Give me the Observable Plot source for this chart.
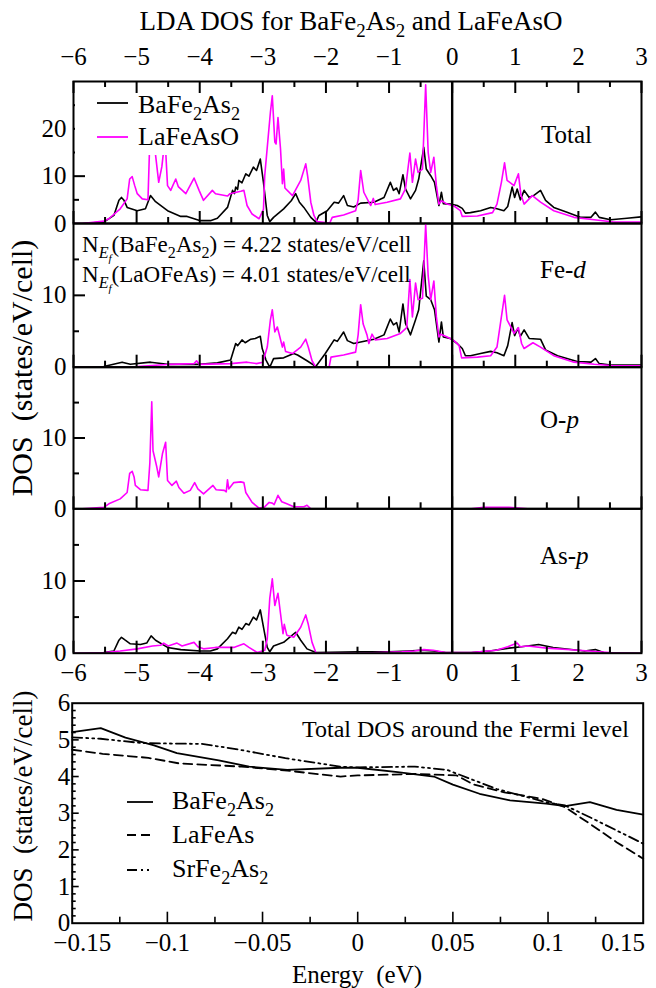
<!DOCTYPE html>
<html><head><meta charset="utf-8">
<script src="https://cdn.jsdelivr.net/npm/d3@7"></script>
<script src="https://cdn.jsdelivr.net/npm/@observablehq/plot@0.6"></script>
<style>
body{margin:0;background:#fff;}
#wrap{position:relative;width:656px;height:988px;overflow:hidden;background:#fff;font-family:"Liberation Serif","Times New Roman",Times,serif;color:#000;}
.t{position:absolute;line-height:0;white-space:nowrap;}
.t sub{font-size:70%;vertical-align:-0.38em;line-height:0;}
.rot{position:absolute;line-height:1;white-space:nowrap;transform:translate(-50%,-50%) rotate(-90deg);}
.box{position:absolute;background:#fff;}
</style></head><body><div id="wrap"></div>
<script>
// ---------------- data ----------------
const energyMajor = [-6,-5,-4,-3,-2,-1,0,1,2,3];
const energyMinor = [-5.5,-4.5,-3.5,-2.5,-1.5,-0.5,0.5,1.5,2.5];

// Total DOS  [energy eV, states/eV/cell]
const totalBa = [[-6,0],[-5.86,0],[-5.52,0.3],[-5.36,1.7],[-5.28,4.9],[-5.24,5.5],[-5.2,4.9],[-5.15,3.4],[-4.99,2.7],[-4.86,3.1],[-4.78,5.9],[-4.7,4.6],[-4.51,2.7],[-4.3,1.5],[-4.2,1.5],[-3.99,0.6],[-3.83,0.6],[-3.72,1.1],[-3.56,3.4],[-3.48,7.0],[-3.45,6.3],[-3.43,7.7],[-3.4,7.2],[-3.38,9.1],[-3.33,8.6],[-3.27,10.5],[-3.22,10.0],[-3.15,11.9],[-3.1,11.2],[-3.04,13.6],[-2.99,8.7],[-2.93,1.7],[-2.89,0.4],[-2.83,1.3],[-2.67,3.1],[-2.55,4.8],[-2.48,6.3],[-2.42,4.5],[-2.35,3.4],[-2.24,1.3],[-2.16,0.3],[-2.11,1.7],[-1.98,2.7],[-1.87,4.5],[-1.8,4.3],[-1.72,5.9],[-1.66,3.8],[-1.56,3.5],[-1.45,4.3],[-1.24,4.5],[-1.08,5.5],[-0.98,8.7],[-0.93,7.0],[-0.88,7.5],[-0.84,6.3],[-0.78,10.3],[-0.74,7.3],[-0.66,5.2],[-0.58,7.0],[-0.53,9.4],[-0.45,16.1],[-0.41,11.5],[-0.34,10.1],[-0.28,8.7],[-0.21,3.8],[-0.17,6.6],[-0.14,4.2],[-0.03,4.1],[0.08,3.8],[0.16,3.2],[0.21,2.2],[0.29,2.3],[0.45,2.7],[0.61,3.4],[0.71,3.1],[0.82,2.7],[0.88,3.6],[0.95,7.7],[0.99,5.5],[1.03,7.3],[1.08,5.0],[1.14,7.0],[1.22,5.5],[1.3,6.0],[1.4,7.0],[1.48,4.9],[1.61,3.4],[1.82,2.4],[2.03,1.3],[2.2,1.3],[2.27,2.4],[2.33,1.3],[2.51,0.8],[2.77,1.1],[3,1.4]];
const totalLa = [[-6,0],[-5.86,0],[-5.52,0.5],[-5.44,1.0],[-5.26,3.1],[-5.15,5.2],[-5.11,9.4],[-5.07,9.9],[-5.03,8.0],[-4.99,6.3],[-4.91,5.2],[-4.82,5.0],[-4.79,18],[-4.76,16],[-4.73,18],[-4.65,8.7],[-4.6,12],[-4.55,18],[-4.51,8.0],[-4.46,7.0],[-4.38,9.4],[-4.34,7.8],[-4.22,6.3],[-4.09,9.6],[-4.01,7.0],[-3.94,4.9],[-3.8,7.0],[-3.75,6.3],[-3.56,5.8],[-3.52,6.3],[-3.35,6.8],[-3.3,7.0],[-3.25,3.8],[-3.17,2.0],[-3.06,1.0],[-2.99,3.0],[-2.97,10.1],[-2.88,23.5],[-2.85,27.0],[-2.81,17.2],[-2.79,16.8],[-2.76,22.4],[-2.72,15.8],[-2.69,8.4],[-2.67,11.5],[-2.65,7.5],[-2.53,5.9],[-2.4,9.1],[-2.32,12.6],[-2.29,10.0],[-2.24,4.5],[-2.19,1.7],[-2.14,0.4],[-1.94,0.1],[-1.9,1.3],[-1.72,1.8],[-1.53,2.7],[-1.49,5.0],[-1.45,11.2],[-1.4,6.6],[-1.32,4.5],[-1.29,3.8],[-1.25,5.3],[-1.22,4.0],[-1.03,4.5],[-0.82,5.2],[-0.74,7.3],[-0.67,14.9],[-0.63,8.7],[-0.58,13.6],[-0.54,10.8],[-0.47,11.5],[-0.42,29.3],[-0.38,15.0],[-0.34,10.8],[-0.29,14.0],[-0.25,8.0],[-0.21,4.1],[-0.17,4.8],[-0.08,4.1],[0.03,3.7],[0.13,2.7],[0.16,1.5],[0.4,1.6],[0.64,2.3],[0.71,4.1],[0.78,8.7],[0.83,12.8],[0.87,9.1],[0.98,8.0],[1.05,10.5],[1.09,6.0],[1.14,4.1],[1.27,5.9],[1.4,4.5],[1.61,2.7],[1.93,1.3],[2.25,0.8],[2.56,0.3],[3,0.3]];

// Fe-d
const feBa = [[-6,0],[-5.86,0],[-5.52,0.1],[-5.23,0.7],[-5.1,0.4],[-4.78,0.7],[-4.51,0.4],[-4.01,0.4],[-3.72,0.6],[-3.51,1.0],[-3.43,3.3],[-3.4,3.0],[-3.33,3.8],[-3.28,3.4],[-3.19,3.9],[-3.12,4.0],[-3.04,4.3],[-3.01,2.6],[-2.95,1.0],[-2.89,0],[-2.83,1.2],[-2.67,1.3],[-2.51,1.9],[-2.45,1.7],[-2.3,0.9],[-2.16,0.1],[-2.01,1.9],[-1.87,3.8],[-1.82,3.6],[-1.72,4.9],[-1.66,3.7],[-1.56,3.3],[-1.45,3.5],[-1.24,3.9],[-1.08,4.5],[-0.98,6.7],[-0.93,5.9],[-0.88,6.2],[-0.84,4.9],[-0.78,8.8],[-0.74,6.1],[-0.66,4.5],[-0.58,6.6],[-0.53,8.0],[-0.45,14.8],[-0.41,9.9],[-0.34,9.4],[-0.28,8.0],[-0.21,3.5],[-0.17,6.3],[-0.14,4.2],[-0.03,4.0],[0.08,3.3],[0.16,2.6],[0.21,1.6],[0.29,1.6],[0.45,1.9],[0.61,2.2],[0.71,2.0],[0.82,1.6],[0.88,3.0],[0.95,6.2],[0.99,4.4],[1.04,5.4],[1.08,4.3],[1.14,5.2],[1.22,4.0],[1.4,3.9],[1.48,2.4],[1.67,1.6],[1.98,0.8],[2.2,0.7],[2.27,1.2],[2.33,0.5],[2.51,0.3],[3,0.3]];
const feLa = [[-6,0],[-5.52,0],[-4.99,0.1],[-4.46,0.4],[-4.09,0.5],[-4.05,0.9],[-4.01,0.4],[-3.51,0.5],[-3.25,0.7],[-3.1,0.5],[-3.0,0.7],[-2.93,2.8],[-2.88,6.6],[-2.85,8.0],[-2.81,4.9],[-2.77,5.6],[-2.73,4.2],[-2.69,2.8],[-2.67,3.5],[-2.64,2.2],[-2.53,1.9],[-2.4,2.8],[-2.32,3.9],[-2.28,2.8],[-2.22,0.9],[-2.16,0],[-1.95,0],[-1.92,1.4],[-1.72,1.7],[-1.53,2.1],[-1.49,4.5],[-1.45,8.7],[-1.41,6.0],[-1.35,4.5],[-1.32,3.3],[-1.27,4.6],[-1.22,3.8],[-1.03,4.0],[-0.82,4.7],[-0.72,5.5],[-0.67,12.2],[-0.63,7.0],[-0.58,11.7],[-0.54,9.4],[-0.47,9.6],[-0.42,19.9],[-0.38,12.7],[-0.34,9.4],[-0.29,12.0],[-0.25,7.0],[-0.21,4.2],[-0.18,4.6],[-0.08,4.2],[0.03,3.7],[0.11,3.0],[0.15,1.3],[0.4,1.4],[0.61,1.6],[0.71,2.8],[0.78,7.0],[0.83,10.0],[0.87,6.6],[0.98,4.7],[1.05,5.5],[1.1,3.3],[1.14,2.6],[1.28,3.4],[1.4,2.8],[1.61,1.6],[1.93,0.7],[2.25,0.4],[2.56,0.2],[3,0.2]];

// O-p (LaFeAsO only)
const oLa = [[-6,0],[-5.86,0],[-5.52,0.2],[-5.44,0.7],[-5.26,1.4],[-5.15,2.3],[-5.11,5.0],[-5.07,5.3],[-5.04,4.5],[-5.02,3.3],[-4.94,2.7],[-4.82,2.6],[-4.79,6.5],[-4.76,15.1],[-4.74,8.2],[-4.68,5.9],[-4.65,4.5],[-4.59,7.8],[-4.54,9.4],[-4.51,4.0],[-4.44,3.3],[-4.37,3.9],[-4.33,3.0],[-4.25,2.2],[-4.15,2.6],[-4.08,3.7],[-4.03,2.8],[-3.94,2.1],[-3.79,3.3],[-3.74,2.7],[-3.61,2.6],[-3.58,2.4],[-3.56,4.1],[-3.54,2.8],[-3.46,3.7],[-3.35,3.8],[-3.3,3.7],[-3.27,2.3],[-3.17,0.9],[-3.06,0.1],[-2.98,0.2],[-2.9,0.9],[-2.85,0.8],[-2.82,0.6],[-2.76,1.9],[-2.7,1.0],[-2.62,0.7],[-2.51,0.3],[-2.35,0.3],[-2.3,0.5],[-2.24,0],[0.3,0],[0.5,0.2],[0.9,0.2],[1.2,0],[3,0]];

// As-p
const asBa = [[-6,0],[-5.86,0],[-5.52,0.1],[-5.36,0.3],[-5.28,1.8],[-5.24,2.2],[-5.18,1.8],[-5.1,1.3],[-4.94,1.2],[-4.84,1.4],[-4.77,2.4],[-4.7,1.8],[-4.51,0.8],[-4.3,0.5],[-3.99,0.3],[-3.83,0.3],[-3.72,0.6],[-3.56,2.0],[-3.48,2.9],[-3.43,2.7],[-3.38,3.6],[-3.33,3.3],[-3.27,4.1],[-3.22,3.9],[-3.15,5.0],[-3.1,4.6],[-3.04,6.0],[-2.99,3.6],[-2.93,0.8],[-2.89,0.2],[-2.83,1.0],[-2.67,1.5],[-2.48,2.9],[-2.4,1.8],[-2.3,0.6],[-2.16,0.1],[-1.5,0.2],[-1.0,0.2],[-0.7,0.3],[-0.5,0.4],[-0.3,0.3],[-0.1,0.1],[0.3,0.1],[0.6,0.3],[0.9,0.7],[1.1,0.9],[1.37,1.2],[1.6,0.8],[2.1,0.3],[2.27,0.5],[2.4,0.1],[3,0]];
const asLa = [[-6,0],[-5.52,0.1],[-5.26,0.3],[-4.99,0.6],[-4.75,1.0],[-4.62,1.1],[-4.57,1.4],[-4.5,1.0],[-4.36,1.4],[-4.28,1.0],[-4.09,1.5],[-4.03,0.9],[-3.94,0.6],[-3.75,0.8],[-3.46,0.8],[-3.3,1.3],[-3.22,0.8],[-3.09,0.1],[-2.97,0.4],[-2.93,2.0],[-2.89,7.6],[-2.85,10.3],[-2.81,6.6],[-2.76,8.3],[-2.72,5.5],[-2.68,2.7],[-2.66,4.0],[-2.62,2.5],[-2.51,2.2],[-2.4,3.6],[-2.32,5.3],[-2.28,4.0],[-2.22,1.5],[-2.16,0.1],[-1.5,0],[-0.8,0.2],[-0.6,0.3],[-0.45,0.5],[-0.3,0.4],[-0.1,0.1],[0.3,0.1],[0.7,0.4],[0.88,0.9],[1.03,1.4],[1.08,0.9],[1.2,1.0],[1.5,0.7],[2.0,0.4],[2.5,0.1],[3,0]];

// Total DOS around the Fermi level
const fermiBaE = [-0.15,-0.135,-0.122,-0.107,-0.095,-0.073,-0.057,-0.037,-0.009,0,0.021,0.04,0.05,0.064,0.08,0.099,0.109,0.122,0.136,0.15];
const fermiBaV = [5.21,5.32,5.06,4.85,4.64,4.44,4.27,4.18,4.24,4.24,4.12,4.0,3.78,3.53,3.35,3.26,3.19,3.3,3.09,2.96];
const fermiLaE = [-0.15,-0.134,-0.11,-0.094,-0.061,-0.037,-0.009,0,0.03,0.052,0.061,0.077,0.097,0.109,0.122,0.136,0.15];
const fermiLaV = [4.73,4.62,4.51,4.36,4.27,4.16,4.0,4.03,4.07,4.03,3.78,3.57,3.39,3.16,2.71,2.21,1.76];
const fermiSrE = [-0.15,-0.135,-0.113,-0.082,-0.064,-0.038,-0.009,0,0.03,0.047,0.059,0.073,0.099,0.109,0.122,0.136,0.15];
const fermiSrV = [5.07,5.03,4.91,4.89,4.75,4.5,4.27,4.25,4.27,4.18,3.94,3.66,3.3,3.21,2.89,2.53,2.17];
const fermiMajor = [-0.1,-0.05,0,0.05,0.1];
const fermiMinor = [-0.125,-0.075,-0.025,0.025,0.075,0.125];
const dosTicks = [0,1,2,3,4,5,6];

// ---------------- drawing ----------------
const W = 656, BLACK = "#000", MAG = "#ff00ff";
const FONT = '"Liberation Serif","Times New Roman",Times,serif';
const wrap = document.getElementById("wrap");
const minusFmt = d => d < 0 ? "\u2212" + (-d) : String(d);
const rows = arr => arr.map(([e, v]) => ({e, v}));
const zipRows = (E, V) => E.map((e, i) => ({e, v: V[i]}));

function place(svg, top) {
  svg.style.position = "absolute";
  svg.style.left = "0px";
  svg.style.top = top + "px";
  wrap.appendChild(svg);
}

function dosPanel(o) {
  const ml = 73, mr = 15, fw = W - ml - mr, fh = o.height - o.mt - o.mb;
  const tk = {stroke: BLACK, strokeWidth: 2};
  const marks = [];
  for (const s of o.series) marks.push(Plot.line(rows(s.data), {x: "e", y: "v", stroke: s.color, strokeWidth: 1.6, clip: true}));
  marks.push(Plot.ruleX([0], {stroke: BLACK, strokeWidth: 2.4}));
  marks.push(Plot.ruleX(energyMajor, {...tk, insetTop: fh - 12}));
  marks.push(Plot.ruleX(energyMinor, {...tk, insetTop: fh - 6}));
  if (o.topAxis) {
    marks.push(Plot.ruleX(energyMajor, {...tk, insetBottom: fh - 12}));
    marks.push(Plot.ruleX(energyMinor, {...tk, insetBottom: fh - 6}));
    marks.push(Plot.axisX({anchor: "top", ticks: energyMajor, tickSize: 0, tickPadding: 17, tickFormat: minusFmt, fontSize: 25, label: null}));
  }
  if (o.bottomAxis) {
    marks.push(Plot.axisX({anchor: "bottom", ticks: energyMajor, tickSize: 0, tickPadding: 10.5, tickFormat: minusFmt, fontSize: 25, label: null}));
  }
  marks.push(Plot.ruleY(o.yMajor, {...tk, insetRight: fw - 12}));
  marks.push(Plot.ruleY(o.yMinor, {...tk, insetRight: fw - 6}));
  marks.push(Plot.axisY({ticks: o.yLabels, tickSize: 0, tickPadding: 7, tickFormat: d => String(d), fontSize: 25, label: null}));
  marks.push(Plot.frame({stroke: BLACK, strokeWidth: 2}));
  const svg = Plot.plot({
    width: W, height: o.height, marginTop: o.mt, marginBottom: o.mb, marginLeft: ml, marginRight: mr,
    x: {domain: [-6, 3], axis: null, label: null},
    y: {domain: [0, o.yMax], axis: null, label: null},
    style: {background: "none", fontFamily: FONT, fontSize: "25px", color: "#000", overflow: "visible"},
    marks
  });
  place(svg, o.top);
}

dosPanel({top: 30, height: 196, mt: 51, mb: 3, yMax: 30, yMajor: [10, 20], yMinor: [5, 15, 25], yLabels: [0, 10, 20], topAxis: true,
  series: [{data: totalBa, color: BLACK}, {data: totalLa, color: MAG}]});
dosPanel({top: 220, height: 150, mt: 3, mb: 3.3, yMax: 20, yMajor: [10], yMinor: [5, 15], yLabels: [0, 10],
  series: [{data: feBa, color: BLACK}, {data: feLa, color: MAG}]});
dosPanel({top: 363, height: 150, mt: 3.7, mb: 4.7, yMax: 20, yMajor: [10], yMinor: [5, 15], yLabels: [0, 10],
  series: [{data: oLa, color: MAG}]});
dosPanel({top: 505, height: 185, mt: 3.3, mb: 37.3, yMax: 20, yMajor: [10], yMinor: [5, 15], yLabels: [0, 10], bottomAxis: true,
  series: [{data: asBa, color: BLACK}, {data: asLa, color: MAG}]});

// bottom panel
(function () {
  const top = 680, height = 308, mt = 22.7, mb = 65.3, ml = 71.7, mr = 13.3;
  const fw = W - ml - mr, fh = height - mt - mb;
  const tk = {stroke: BLACK, strokeWidth: 1.6};
  const yMinor = d3.range(0.2, 6, 0.2).filter(v => Math.abs(v - Math.round(v)) > 1e-6);
  const ax = {tickSize: 0, tickPadding: 10.5, tickFormat: minusFmt, fontSize: 25, label: null};
  const svg = Plot.plot({
    width: W, height, marginTop: mt, marginBottom: mb, marginLeft: ml, marginRight: mr,
    x: {domain: [-0.15, 0.15], axis: null, label: null},
    y: {domain: [0, 6], axis: null, label: null},
    style: {background: "none", fontFamily: FONT, fontSize: "25px", color: "#000", overflow: "visible"},
    marks: [
      Plot.line(zipRows(fermiBaE, fermiBaV), {x: "e", y: "v", stroke: BLACK, strokeWidth: 1.8}),
      Plot.line(zipRows(fermiLaE, fermiLaV), {x: "e", y: "v", stroke: BLACK, strokeWidth: 1.8, strokeDasharray: "9,5"}),
      Plot.line(zipRows(fermiSrE, fermiSrV), {x: "e", y: "v", stroke: BLACK, strokeWidth: 1.8, strokeDasharray: "10,4,2,4,2,4"}),
      Plot.ruleX(fermiMajor, {...tk, insetTop: fh - 11}),
      Plot.ruleX(fermiMinor, {...tk, insetTop: fh - 6}),
      Plot.ruleY([1, 2, 3, 4, 5], {...tk, insetRight: fw - 7}),
      Plot.ruleY(yMinor, {...tk, insetRight: fw - 4}),
      Plot.axisY({ticks: dosTicks, tickSize: 0, tickPadding: 2, tickFormat: d => String(d), fontSize: 25, label: null}),
      Plot.axisX({...ax, ticks: fermiMajor}),
      Plot.axisX({...ax, ticks: [-0.15], dx: 10}),
      Plot.axisX({...ax, ticks: [0.15], dx: -20}),
      Plot.frame({stroke: BLACK, strokeWidth: 2})
    ]
  });
  place(svg, top);
})();

// ---------------- text & legends ----------------
function text(html, {x, baseline, size, middle = false}) {
  const d = document.createElement("div");
  d.className = "t";
  d.style.left = x + "px";
  d.style.top = (baseline - 0.3375 * size) + "px";
  d.style.fontSize = size + "px";
  if (middle) d.style.transform = "translateX(-50%)";
  d.innerHTML = html;
  wrap.appendChild(d);
}
function rotText(html, {cx, cy, size}) {
  const d = document.createElement("div");
  d.className = "rot";
  d.style.left = cx + "px";
  d.style.top = cy + "px";
  d.style.fontSize = size + "px";
  d.innerHTML = html;
  wrap.appendChild(d);
}
function box(x, y, w, h) {
  const d = document.createElement("div");
  d.className = "box";
  Object.assign(d.style, {left: x + "px", top: y + "px", width: w + "px", height: h + "px"});
  wrap.appendChild(d);
}
function sample(x1, x2, y, color, dash, width = 1.8) {
  const ns = "http://www.w3.org/2000/svg";
  const s = document.createElementNS(ns, "svg");
  s.setAttribute("width", x2 - x1 + 4);
  s.setAttribute("height", 8);
  s.style.position = "absolute";
  s.style.left = (x1 - 2) + "px";
  s.style.top = (y - 4) + "px";
  const l = document.createElementNS(ns, "line");
  l.setAttribute("x1", 2); l.setAttribute("x2", x2 - x1 + 2);
  l.setAttribute("y1", 4); l.setAttribute("y2", 4);
  l.setAttribute("stroke", color); l.setAttribute("stroke-width", width);
  if (dash) l.setAttribute("stroke-dasharray", dash);
  s.appendChild(l);
  wrap.appendChild(s);
}

const BFA = "BaFe<sub>2</sub>As<sub>2</sub>";
text("LDA DOS for " + BFA + " and LaFeAsO", {x: 351, baseline: 30, size: 27, middle: true});

// legend of the top panel (opaque box)
box(75, 94, 177, 61);
sample(97, 128, 103.3, BLACK, null);
text(BFA, {x: 138, baseline: 114, size: 26});
sample(97, 128, 136.7, MAG, null);
text("LaFeAsO", {x: 138, baseline: 146, size: 26});

const NEF = "N<sub><i>E<sub>f</sub></i></sub>";
text(NEF + "(" + BFA + ") = 4.22 states/eV/cell", {x: 82, baseline: 253, size: 23});
text(NEF + "(LaOFeAs) = 4.01 states/eV/cell", {x: 82, baseline: 283, size: 23});

text("Total", {x: 541, baseline: 143, size: 25});
text("Fe-<i>d</i>", {x: 540, baseline: 278, size: 25});
text("O-<i>p</i>", {x: 540, baseline: 428, size: 25});
text("As-<i>p</i>", {x: 540, baseline: 564, size: 25});

rotText("DOS&nbsp; (states/eV/cell)", {cx: 22, cy: 368, size: 30});

// bottom panel texts
text("Total DOS around the Fermi level", {x: 302, baseline: 737, size: 24});
sample(127, 153, 801.7, BLACK, null);
text(BFA, {x: 172, baseline: 810, size: 26});
sample(127, 153, 835, BLACK, "9,5");
text("LaFeAs", {x: 172, baseline: 843.5, size: 26});
sample(127, 153, 870, BLACK, "10,4,2,4,2,4");
text("SrFe<sub>2</sub>As<sub>2</sub>", {x: 172, baseline: 878, size: 26});
rotText("DOS&nbsp; (states/eV/cell)", {cx: 23, cy: 806, size: 27});
text("Energy&nbsp; (eV)", {x: 357, baseline: 983, size: 25, middle: true});
</script></body></html>
